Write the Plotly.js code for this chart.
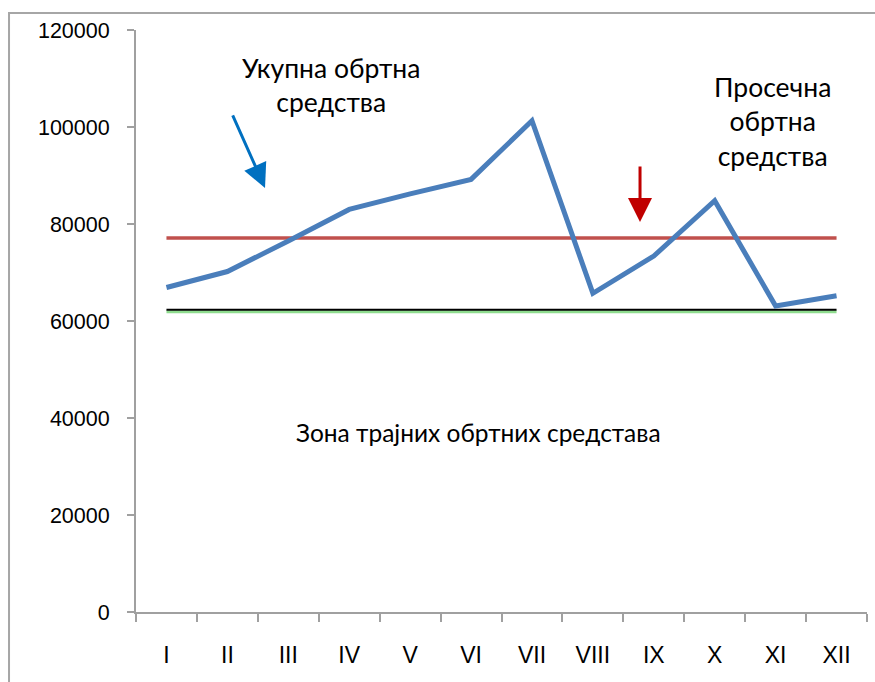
<!DOCTYPE html>
<html>
<head>
<meta charset="utf-8">
<script src="https://cdn.plot.ly/plotly-3.0.1.min.js"></script>
<style>html,body{margin:0;padding:0;background:#fff;}#chart{width:875px;height:682px;}</style>
</head>
<body>
<div id="chart"></div>
<script>
const months = ["I","II","III","IV","V","VI","VII","VIII","IX","X","XI","XII"];
const totalCurrentAssets = [66900, 70200, 76500, 83000, 86200, 89200, 101300, 65700, 73400, 84800, 63100, 65200];
const averageCurrentAssets = [77100, 77100, 77100, 77100, 77100, 77100, 77100, 77100, 77100, 77100, 77100, 77100];
const permanentLevel = [62300, 62300, 62300, 62300, 62300, 62300, 62300, 62300, 62300, 62300, 62300, 62300];
const permanentLevelLow = [61900, 61900, 61900, 61900, 61900, 61900, 61900, 61900, 61900, 61900, 61900, 61900];
const yTicks = [0, 20000, 40000, 60000, 80000, 100000, 120000];

const traces = [
  {x: months, y: permanentLevelLow, type: "scatter", mode: "lines", line: {color: "#8fdc8f", width: 3}, hoverinfo: "skip"},
  {x: months, y: permanentLevel, type: "scatter", mode: "lines", line: {color: "#000000", width: 2}, hoverinfo: "skip"},
  {x: months, y: averageCurrentAssets, type: "scatter", mode: "lines", line: {color: "#c0504d", width: 3.5}},
  {x: months, y: totalCurrentAssets, type: "scatter", mode: "lines", line: {color: "#4a7ebb", width: 5}}
];

const textFont = {family: "Lato, 'Open Sans', sans-serif", size: 26.5, color: "#000"};
const zoneFont = {family: "Lato, 'Open Sans', sans-serif", size: 24.5, color: "#000"};
const tickFontFamily = "'Liberation Sans Narrow', 'Liberation Sans', Arial, sans-serif";

const layout = {
  width: 875, height: 682,
  margin: {l: 136, r: 8, t: 30, b: 70, pad: 0},
  paper_bgcolor: "#fff", plot_bgcolor: "#fff",
  showlegend: false,
  xaxis: {
    type: "category", range: [-0.5, 11.5], tickson: "boundaries",
    showline: true, linecolor: "#a0a0a0", linewidth: 2,
    ticks: "outside", ticklen: 8, tickcolor: "#a0a0a0", tickwidth: 2,
    showgrid: false, zeroline: false, fixedrange: true,
    tickfont: {family: tickFontFamily, size: 23, color: "#000"},
    ticklabelstandoff: 21
  },
  yaxis: {
    range: [0, 120000], tickvals: yTicks, ticktext: yTicks.map(String),
    showline: true, linecolor: "#a0a0a0", linewidth: 2,
    ticks: "outside", ticklen: 7, tickcolor: "#a0a0a0", tickwidth: 2,
    showgrid: false, zeroline: false, fixedrange: true,
    tickfont: {family: tickFontFamily, size: 21.5, color: "#000"},
    ticklabelstandoff: 13
  },
  shapes: [
    {type: "rect", xref: "paper", yref: "paper", x0: -0.1737, x1: 1.05, y0: -0.25, y1: 1.0292,
     line: {color: "#a6a6a6", width: 2}, fillcolor: "rgba(0,0,0,0)", layer: "below"}
  ],
  annotations: [
    {xref: "paper", yref: "paper", x: 0.2668, y: 0.9055, text: "Укупна обртна<br>средства",
     showarrow: false, font: textFont, align: "center", xanchor: "center", yanchor: "middle"},
    {xref: "paper", yref: "paper", x: 0.8714, y: 0.8423, text: "Просечна<br>обртна<br>средства",
     showarrow: false, font: textFont, align: "center", xanchor: "center", yanchor: "middle"},
    {xref: "paper", yref: "paper", x: 0.4692, y: 0.308, text: "Зона трајних обртних средстава",
     showarrow: false, font: zoneFont, align: "center", xanchor: "center", yanchor: "middle"},
    {xref: "paper", yref: "paper", x: 0.1765, y: 0.7287, ax: -33, ay: -74, text: "",
     showarrow: true, arrowhead: 2, arrowsize: 1.6, arrowwidth: 3, arrowcolor: "#0070c0"},
    {xref: "paper", yref: "paper", x: 0.6895, y: 0.6703, ax: 0, ay: -57, text: "",
     showarrow: true, arrowhead: 2, arrowsize: 1.6, arrowwidth: 3, arrowcolor: "#c00000"}
  ]
};

Plotly.newPlot("chart", traces, layout, {displayModeBar: false, staticPlot: true});
</script>
</body>
</html>
